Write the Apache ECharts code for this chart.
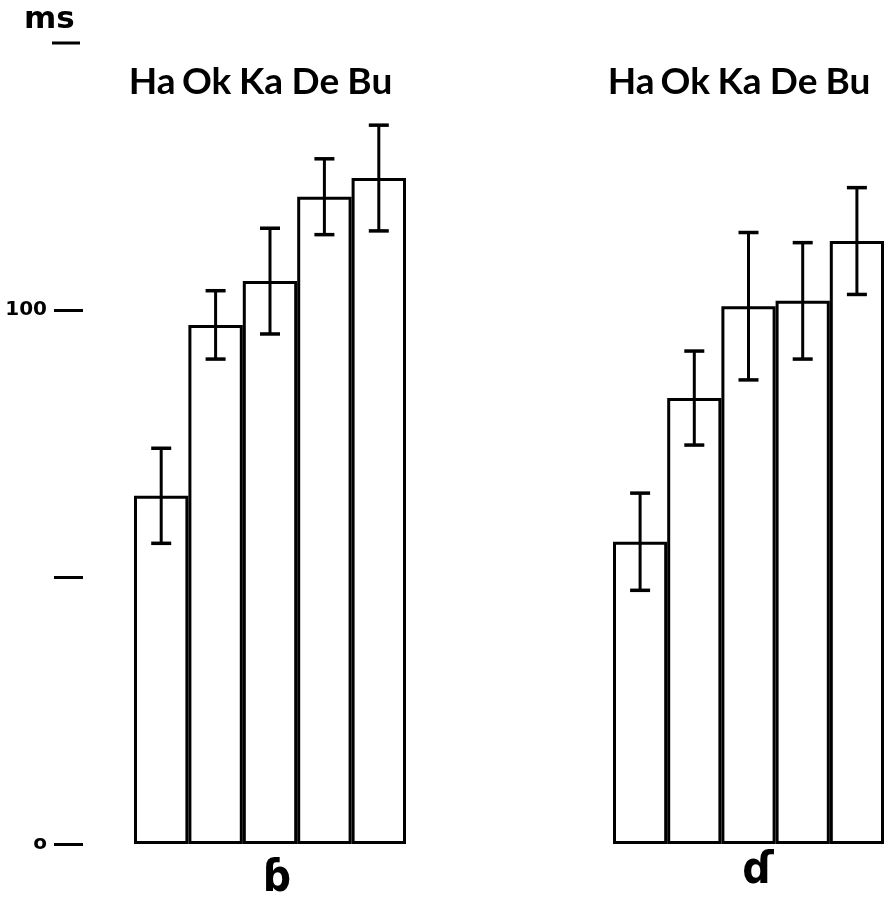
<!DOCTYPE html>
<html>
<head>
<meta charset="utf-8">
<script src="https://cdn.jsdelivr.net/npm/echarts@6/dist/echarts.min.js"></script>
<style>
  html, body { margin: 0; padding: 0; background: #fff; }
  #chart { width: 892px; height: 905px; }
</style>
</head>
<body>
<div id="chart"></div>
<script>
// Closure durations (ms) for the implosives, by speaker
const speakers = ['Ha', 'Ok', 'Ka', 'De', 'Bu'];
const bMeans = [65.2, 97.2, 105.4, 121.2, 124.7];   // ɓ
const bErrors = [8.9, 6.4, 9.9, 7.1, 9.9];
const dMeans = [56.6, 83.5, 100.7, 101.7, 112.9];   // ɗ
const dErrors = [9.1, 8.8, 13.8, 10.9, 10.0];
const yTicks = [0, 50, 100];
const yLabels = { 0: 'o', 50: '', 100: '100' };
const panelLabels = ['ɓ', 'ɗ'];
const unitLabel = 'ms';

const INK = '#000';
const Y_MAX = 138;
const TICK_LEN = 29;

function errorBarSeries(means, errs, axisIndex) {
  return {
    type: 'custom',
    xAxisIndex: axisIndex,
    yAxisIndex: axisIndex,
    z: 5,
    data: means.map((m, i) => [i, m, errs[i]]),
    renderItem(params, api) {
      const i = api.value(0), m = api.value(1), e = api.value(2);
      const top = api.coord([i, m + e]);
      const bot = api.coord([i, m - e]);
      const half = 10;
      const st = { stroke: INK, lineWidth: 3 };
      const cap = { stroke: INK, lineWidth: 3.5 };
      return {
        type: 'group',
        children: [
          { type: 'line', shape: { x1: top[0], y1: top[1], x2: bot[0], y2: bot[1] }, style: st },
          { type: 'line', shape: { x1: top[0] - half, y1: top[1], x2: top[0] + half, y2: top[1] }, style: cap },
          { type: 'line', shape: { x1: bot[0] - half, y1: bot[1], x2: bot[0] + half, y2: bot[1] }, style: cap }
        ]
      };
    }
  };
}

function barSeries(means, axisIndex) {
  return {
    type: 'bar',
    xAxisIndex: axisIndex,
    yAxisIndex: axisIndex,
    barWidth: '100%',
    z: 2,
    data: means,
    itemStyle: { color: '#fff', borderColor: INK, borderWidth: 3 },
    silent: true
  };
}

function categoryAxis(gridIndex) {
  return {
    type: 'category',
    gridIndex,
    position: 'top',
    data: speakers,
    boundaryGap: true,
    axisLine: { show: false, onZero: false },
    axisTick: { show: false },
    axisLabel: {
      interval: 0,
      hideOverlap: false,
      color: INK,
      fontFamily: 'Lato',
      fontWeight: 'bold',
      fontSize: 37,
      margin: 6,
      padding: [0, 18, 0, 0]
    }
  };
}

const chart = echarts.init(document.getElementById('chart'), null, { renderer: 'canvas' });

chart.setOption({
  backgroundColor: '#fff',
  animation: false,
  grid: [
    { left: 134, width: 272, top: 107, bottom: 61 },
    { left: 613, width: 271, top: 107, bottom: 61 }
  ],
  xAxis: [categoryAxis(0), categoryAxis(1)],
  yAxis: [
    {
      type: 'value',
      gridIndex: 0,
      min: 0,
      max: Y_MAX,
      offset: 51,
      axisLine: { show: false },
      splitLine: { show: false },
      axisTick: {
        show: true,
        length: TICK_LEN,
        customValues: yTicks,
        lineStyle: { color: INK, width: 3 }
      },
      axisLabel: {
        customValues: yTicks,
        margin: TICK_LEN + 7,
        color: INK,
        fontFamily: 'DejaVu Sans',
        fontWeight: 'bold',
        fontSize: 20,
        formatter: v => yLabels[v] !== undefined ? yLabels[v] : ''
      }
    },
    {
      type: 'value',
      gridIndex: 1,
      min: 0,
      max: Y_MAX,
      show: false
    }
  ],
  series: [
    barSeries(bMeans, 0),
    errorBarSeries(bMeans, bErrors, 0),
    barSeries(dMeans, 1),
    errorBarSeries(dMeans, dErrors, 1)
  ],
  graphic: [
    {
      type: 'text', left: 24, top: 4,
      style: { text: unitLabel, fill: INK, font: 'bold 31px "DejaVu Sans"' }
    },
    {
      type: 'line',
      shape: { x1: 52, y1: 43, x2: 80, y2: 43 },
      style: { stroke: INK, lineWidth: 3 }
    },
    {
      type: 'text', x: 277, y: 880,
      style: { text: panelLabels[0], fill: INK, font: '600 44px "DejaVu Sans Condensed", "DejaVu Sans"', align: 'center', verticalAlign: 'middle' }
    },
    {
      type: 'text', x: 758, y: 872,
      style: { text: panelLabels[1], fill: INK, font: '600 44px "DejaVu Sans Condensed", "DejaVu Sans"', align: 'center', verticalAlign: 'middle' }
    }
  ]
});
</script>
</body>
</html>
